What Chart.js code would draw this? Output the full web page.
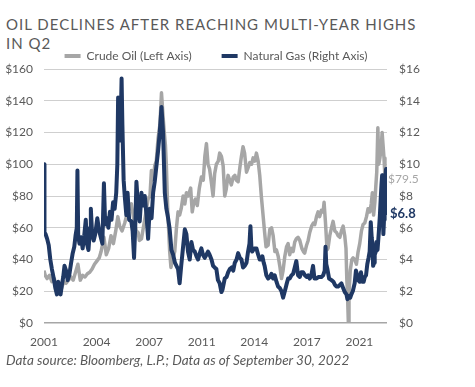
<!DOCTYPE html>
<html>
<head>
<meta charset="utf-8">
<script src="https://cdn.jsdelivr.net/npm/chart.js@4.4.1/dist/chart.umd.min.js"></script>
<style>
  html, body { margin: 0; padding: 0; background: #fff; }
  body { width: 475px; height: 387px; position: relative; overflow: hidden; font-family: Lato, sans-serif; }
  #title { position: absolute; left: 6px; top: 15px; width: 425px; font-size: 15px; line-height: 19px; letter-spacing: 1.0px; color: #595959; }
  #wrap { position: absolute; left: 0; top: 0; width: 432px; height: 387px; }
  #note { position: absolute; left: 6px; top: 352px; font-size: 13.5px; font-style: italic; color: #595959; white-space: nowrap; }
</style>
</head>
<body>
<div id="title">OIL DECLINES AFTER REACHING MULTI-YEAR HIGHS IN Q2</div>
<div id="wrap"><canvas id="chart"></canvas></div>
<div id="note">Data source: Bloomberg, L.P.; Data as of September 30, 2022</div>
<script>
// Crude oil, $ per barrel (left axis) - decimal year / value
const oilDates = [2001.0, 2001.08, 2001.2, 2001.35, 2001.5, 2001.65, 2001.78, 2001.88, 2002.0, 2002.12, 2002.25, 2002.4,
  2002.55, 2002.7, 2002.85, 2003.0, 2003.15, 2003.3, 2003.45, 2003.6, 2003.75, 2003.9, 2004.05, 2004.2,
  2004.35, 2004.5, 2004.62, 2004.8, 2004.95, 2005.1, 2005.25, 2005.4, 2005.55, 2005.68, 2005.8, 2005.95,
  2006.12, 2006.3, 2006.54, 2006.7, 2006.85, 2006.97, 2007.05, 2007.18, 2007.35, 2007.5, 2007.6, 2007.72,
  2007.81, 2007.92, 2008.02, 2008.12, 2008.23, 2008.35, 2008.45, 2008.55, 2008.62, 2008.7, 2008.76, 2008.85,
  2008.97, 2009.05, 2009.15, 2009.29, 2009.4, 2009.5, 2009.6, 2009.7, 2009.82, 2009.93, 2010.03, 2010.15,
  2010.3, 2010.4, 2010.5, 2010.6, 2010.72, 2010.85, 2010.98, 2011.1, 2011.2, 2011.3, 2011.4, 2011.5,
  2011.62, 2011.72, 2011.82, 2011.93, 2012.05, 2012.14, 2012.25, 2012.36, 2012.46, 2012.55, 2012.67, 2012.78,
  2012.88, 2013.0, 2013.1, 2013.2, 2013.31, 2013.42, 2013.52, 2013.62, 2013.72, 2013.84, 2013.95, 2014.05,
  2014.16, 2014.26, 2014.37, 2014.47, 2014.58, 2014.68, 2014.78, 2014.89, 2014.99, 2015.08, 2015.21, 2015.32,
  2015.43, 2015.53, 2015.64, 2015.74, 2015.85, 2015.95, 2016.06, 2016.16, 2016.27, 2016.38, 2016.48, 2016.58,
  2016.69, 2016.8, 2016.9, 2017.0, 2017.11, 2017.22, 2017.35, 2017.45, 2017.53, 2017.65, 2017.75, 2017.85,
  2017.97, 2018.08, 2018.17, 2018.28, 2018.38, 2018.48, 2018.59, 2018.7, 2018.76, 2018.85, 2018.95, 2019.01,
  2019.12, 2019.23, 2019.33, 2019.44, 2019.55, 2019.65, 2019.76, 2019.86, 2019.97, 2020.07, 2020.15, 2020.2,
  2020.24, 2020.3, 2020.34, 2020.42, 2020.52, 2020.6, 2020.7, 2020.81, 2020.92, 2021.02, 2021.13, 2021.23,
  2021.34, 2021.45, 2021.55, 2021.66, 2021.75, 2021.82, 2021.9, 2021.98, 2022.04, 2022.1, 2022.17, 2022.23,
  2022.3, 2022.38, 2022.44, 2022.5, 2022.56, 2022.62, 2022.68, 2022.75];
const oilValues = [33, 30, 28, 30, 26, 28, 23, 19, 20, 22, 26, 25,
  27, 29, 27, 32, 37, 27, 30, 29, 31, 32, 34, 37,
  39, 41, 45, 54, 43, 47, 55, 50, 58, 67, 61, 58,
  63, 70, 75, 65, 58, 57, 52, 53, 63, 72, 78, 80,
  96, 90, 99, 102, 116, 125, 145, 130, 121, 112, 99, 70,
  45, 35, 40, 45, 60, 70, 68, 72, 80, 75, 82, 80,
  85, 70, 76, 78, 74, 85, 92, 90, 105, 113, 100, 97,
  88, 80, 94, 100, 102, 107, 105, 99, 80, 84, 93, 90,
  87, 92, 93, 90, 89, 98, 105, 111, 107, 95, 98, 101,
  100, 104, 102, 107, 102, 93, 80, 68, 57, 48, 49, 59,
  60, 55, 45, 46, 42, 36, 28, 33, 42, 48, 50, 43,
  47, 45, 51, 53, 54, 52, 47, 45, 44, 49, 52, 57,
  61, 63, 62, 67, 70, 67, 71, 70, 76, 63, 46, 47,
  55, 60, 64, 58, 57, 55, 54, 58, 61, 55, 47, 28,
  20, 0, 18, 33, 40, 41, 40, 37, 45, 50, 58, 62,
  63, 67, 72, 70, 75, 82, 68, 76, 86, 95, 123, 100,
  104, 110, 120, 112, 104, 92, 96, 79.5];

// Natural gas, $ per MMBtu (right axis)
const gasDates = [2001.0, 2001.03, 2001.1, 2001.2, 2001.3, 2001.4, 2001.5, 2001.62, 2001.72, 2001.82, 2001.9, 2001.98,
  2002.05, 2002.15, 2002.22, 2002.3, 2002.4, 2002.5, 2002.6, 2002.72, 2002.82, 2002.92, 2003.0, 2003.08,
  2003.12, 2003.17, 2003.25, 2003.35, 2003.45, 2003.55, 2003.65, 2003.72, 2003.82, 2003.92, 2003.97, 2004.05,
  2004.15, 2004.25, 2004.38, 2004.5, 2004.6, 2004.7, 2004.8, 2004.88, 2004.98, 2005.08, 2005.18, 2005.28,
  2005.38, 2005.48, 2005.58, 2005.65, 2005.7, 2005.76, 2005.84, 2005.92, 2005.97, 2006.05, 2006.12, 2006.22,
  2006.3, 2006.4, 2006.54, 2006.62, 2006.71, 2006.8, 2006.86, 2006.97, 2007.07, 2007.18, 2007.28, 2007.39,
  2007.5, 2007.6, 2007.7, 2007.82, 2007.92, 2008.02, 2008.13, 2008.23, 2008.34, 2008.45, 2008.55, 2008.66,
  2008.76, 2008.87, 2008.97, 2009.08, 2009.19, 2009.3, 2009.4, 2009.5, 2009.6, 2009.7, 2009.8, 2009.93,
  2010.03, 2010.13, 2010.24, 2010.35, 2010.45, 2010.56, 2010.67, 2010.77, 2010.88, 2010.98, 2011.08, 2011.19,
  2011.3, 2011.4, 2011.5, 2011.62, 2011.72, 2011.82, 2011.93, 2012.03, 2012.14, 2012.25, 2012.32, 2012.46,
  2012.58, 2012.68, 2012.78, 2012.9, 2013.0, 2013.1, 2013.21, 2013.31, 2013.42, 2013.52, 2013.62, 2013.73,
  2013.84, 2013.94, 2014.03, 2014.09, 2014.15, 2014.2, 2014.33, 2014.47, 2014.58, 2014.68, 2014.78, 2014.85,
  2014.93, 2014.99, 2015.1, 2015.21, 2015.32, 2015.42, 2015.53, 2015.63, 2015.74, 2015.84, 2015.95, 2016.06,
  2016.16, 2016.27, 2016.37, 2016.48, 2016.58, 2016.69, 2016.8, 2016.9, 2017.0, 2017.11, 2017.22, 2017.32,
  2017.43, 2017.55, 2017.65, 2017.75, 2017.85, 2017.95, 2018.06, 2018.15, 2018.28, 2018.4, 2018.5, 2018.59,
  2018.7, 2018.8, 2018.85, 2018.9, 2018.97, 2019.08, 2019.23, 2019.35, 2019.45, 2019.54, 2019.65, 2019.76,
  2019.86, 2019.97, 2020.07, 2020.18, 2020.24, 2020.34, 2020.42, 2020.49, 2020.58, 2020.7, 2020.78, 2020.86,
  2020.92, 2021.02, 2021.1, 2021.18, 2021.27, 2021.34, 2021.42, 2021.5, 2021.58, 2021.65, 2021.72, 2021.78,
  2021.82, 2021.87, 2021.93, 2021.97, 2022.04, 2022.08, 2022.15, 2022.23, 2022.3, 2022.35, 2022.4, 2022.44,
  2022.48, 2022.52, 2022.56, 2022.6, 2022.65, 2022.69, 2022.72, 2022.75];
const gasValues = [10.0, 5.7, 5.6, 5.3, 4.9, 4.0, 3.4, 2.8, 2.2, 1.8, 2.6, 2.0,
  1.8, 2.5, 2.9, 3.6, 3.3, 2.7, 3.0, 3.8, 4.4, 4.8, 5.5, 6.0,
  9.6, 5.5, 5.0, 5.4, 4.7, 5.5, 6.5, 5.0, 4.6, 6.0, 7.2, 5.6,
  5.2, 5.6, 6.6, 5.8, 5.4, 5.0, 8.8, 6.2, 6.6, 6.0, 7.0, 6.5,
  7.6, 7.2, 8.2, 10.0, 14.2, 12.0, 11.5, 15.4, 12.5, 9.0, 8.0, 6.8,
  8.2, 6.5, 6.4, 5.8, 4.1, 6.5, 8.9, 7.2, 6.4, 8.2, 7.4, 8.0,
  6.8, 5.3, 7.2, 6.6, 8.2, 8.9, 9.9, 10.8, 12.0, 13.6, 12.0, 8.2,
  7.2, 6.6, 5.9, 4.6, 4.3, 3.8, 3.6, 3.4, 2.5, 3.6, 4.6, 5.9,
  5.6, 4.5, 4.0, 5.1, 4.6, 4.5, 4.2, 4.0, 4.4, 4.7, 4.3, 4.1,
  4.3, 4.5, 4.3, 4.0, 3.6, 3.5, 3.4, 2.7, 2.5, 1.95, 2.1, 2.8,
  2.9, 3.2, 3.4, 3.5, 3.3, 3.8, 4.0, 4.4, 4.1, 4.0, 3.5, 3.6,
  3.8, 4.5, 5.0, 6.1, 4.8, 4.5, 4.7, 4.7, 4.3, 4.0, 4.0, 4.2,
  3.8, 3.6, 3.0, 2.8, 2.9, 3.1, 2.8, 3.0, 2.6, 2.3, 2.2, 2.0,
  1.6, 2.0, 2.4, 2.8, 2.8, 3.0, 3.1, 3.5, 3.9, 3.0, 2.9, 3.2,
  3.2, 3.0, 2.9, 3.0, 2.8, 3.0, 3.6, 2.8, 2.8, 2.9, 2.9, 2.9,
  3.0, 3.3, 4.8, 3.7, 3.4, 2.8, 2.7, 2.6, 2.4, 2.3, 2.3, 2.4,
  2.5, 2.2, 1.95, 1.8, 1.5, 1.7, 1.6, 1.8, 2.0, 2.5, 3.3, 3.0,
  2.7, 2.6, 3.2, 2.6, 2.6, 2.9, 3.0, 3.7, 4.1, 4.5, 6.35, 5.4,
  5.0, 3.6, 3.8, 4.3, 4.5, 5.1, 4.6, 5.7, 6.8, 7.8, 8.7, 9.3,
  7.0, 5.6, 6.5, 8.0, 9.0, 9.7, 8.0, 6.8];

// x axis tick positions and their labels
const tickYears = [2001, 2004.333, 2007.667, 2011, 2014.333, 2017.667, 2021];
const tickLabels = ['2001', '2004', '2007', '2011', '2014', '2017', '2021'];

const seriesNames = ['Crude Oil (Left Axis)', 'Natural Gas (Right Axis)'];
const oilColor = '#a6a6a6';
const gasColor = '#1f3864';
const textColor = '#595959';

const toPoints = (xs, ys) => xs.map((x, i) => ({ x: x, y: ys[i] }));

// Make the legend box a little shorter so the plot starts where the original does
const legendSpacer = {
  id: 'legendSpacer',
  beforeInit(chart) {
    const fit = chart.legend.fit;
    chart.legend.fit = function () { fit.call(this); this.height = 49; };
  }
};

// Last value labels at the right end of each line
const endLabels = {
  id: 'endLabels',
  afterDatasetsDraw(chart) {
    const c = chart.ctx;
    c.save();
    c.textBaseline = 'middle';
    c.textAlign = 'left';
    const oilMeta = chart.getDatasetMeta(0);
    const oilPt = oilMeta.data[oilMeta.data.length - 1];
    c.fillStyle = oilColor;
    c.font = '12px Lato, sans-serif';
    c.fillText('$' + oilValues[oilValues.length - 1], oilPt.x + 1, oilPt.y - 18);
    const gasMeta = chart.getDatasetMeta(1);
    const gasPt = gasMeta.data[gasMeta.data.length - 1];
    c.fillStyle = gasColor;
    c.font = 'bold 13px Lato, sans-serif';
    c.fillText('$' + gasValues[gasValues.length - 1], gasPt.x + 3, gasPt.y - 1);
    c.restore();
  }
};

new Chart(document.getElementById('chart'), {
  type: 'line',
  data: {
    datasets: [
      { label: seriesNames[0], data: toPoints(oilDates, oilValues), yAxisID: 'y',
        borderColor: oilColor, backgroundColor: oilColor, borderWidth: 3.5, order: 2 },
      { label: seriesNames[1], data: toPoints(gasDates, gasValues), yAxisID: 'y2',
        borderColor: gasColor, backgroundColor: gasColor, borderWidth: 4, order: 1 }
    ]
  },
  options: {
    responsive: true,
    maintainAspectRatio: false,
    animation: false,
    layout: { padding: { top: 20, left: 0, right: 0, bottom: 0 } },
    elements: { point: { radius: 0 }, line: { tension: 0, borderJoinStyle: 'round' } },
    scales: {
      x: {
        type: 'linear',
        min: 2001,
        max: 2022.75,
        afterBuildTicks: s => { s.ticks = tickYears.map(v => ({ value: v })); },
        afterFit: s => { s.height = 64; },
        grid: { display: false },
        border: { display: false },
        ticks: {
          padding: 4,
          color: textColor,
          font: { family: 'Lato', size: 12 },
          maxRotation: 0,
          callback: (v, i) => tickLabels[i]
        }
      },
      y: {
        position: 'left',
        min: 0,
        max: 160,
        afterFit: s => { s.width = 44; },
        border: { display: false },
        grid: {
          drawTicks: false,
          color: ctx => ctx.tick.value === 0 ? '#a6a6a6' : '#cfcfcf',
          lineWidth: ctx => ctx.tick.value === 0 ? 1.5 : 1
        },
        ticks: { stepSize: 20, padding: 11, color: textColor, font: { family: 'Lato', size: 12 },
          callback: v => '$' + v }
      },
      y2: {
        position: 'right',
        min: 0,
        max: 16,
        afterFit: s => { s.width = 45; },
        border: { display: false },
        grid: { display: false, drawTicks: false },
        ticks: { stepSize: 2, padding: 12, color: textColor, font: { family: 'Lato', size: 12 },
          callback: v => '$' + v }
      }
    },
    plugins: {
      legend: {
        position: 'top',
        labels: {
          boxWidth: 16,
          boxHeight: 4,
          padding: 30,
          color: textColor,
          font: { family: 'Lato', size: 12 },
          sort: (a, b) => a.datasetIndex - b.datasetIndex,
          generateLabels: chart => Chart.defaults.plugins.legend.labels.generateLabels(chart)
            .map(l => Object.assign(l, { lineWidth: 0 }))
        }
      },
      tooltip: { enabled: false }
    }
  },
  plugins: [legendSpacer, endLabels]
});
</script>
</body>
</html>
